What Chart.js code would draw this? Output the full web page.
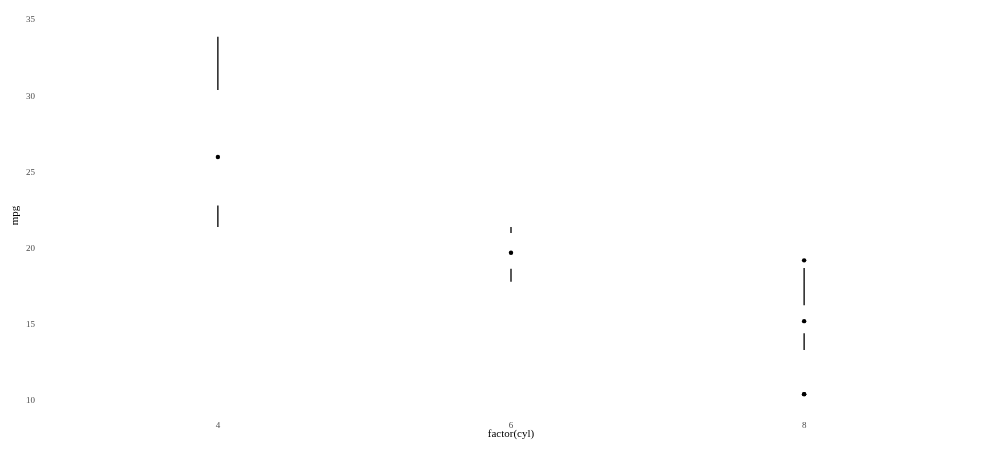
<!DOCTYPE html>
<html><head><meta charset="utf-8">
<script src="https://cdn.jsdelivr.net/npm/chart.js@4/dist/chart.umd.min.js"></script>
<style>html,body{margin:0;padding:0;background:#fff}#wrap{width:1000px;height:452px}</style>
</head><body><div id="wrap"><canvas id="c" width="1000" height="452"></canvas></div>
<script>
const categories = ['4', '6', '8'];
const lowerWhiskerLo = [21.4, 17.8, 13.3];
const lowerWhiskerHi = [22.8, 18.65, 14.4];
const upperWhiskerLo = [30.4, 21.0, 16.25];
const upperWhiskerHi = [33.9, 21.4, 18.7];
const medians = [26.0, 19.7, 15.2];
const outlierCat = ['8', '8', '8'];
const outlierMpg = [10.4, 10.4, 19.2];
const yTicks = [10, 15, 20, 25, 30, 35];

const xi = c => categories.indexOf(c) + 1;
const segs = [];
categories.forEach((c, i) => {
  segs.push({x: xi(c), y: lowerWhiskerLo[i]}, {x: xi(c), y: lowerWhiskerHi[i]}, {x: xi(c), y: null});
  segs.push({x: xi(c), y: upperWhiskerLo[i]}, {x: xi(c), y: upperWhiskerHi[i]}, {x: xi(c), y: null});
});
const medPts = categories.map((c, i) => ({x: xi(c), y: medians[i]}));
const outPts = outlierCat.map((c, i) => ({x: xi(c), y: outlierMpg[i]}));

const tickFont = {family: 'Liberation Serif', size: 9};
new Chart(document.getElementById('c'), {
  type: 'scatter',
  data: {datasets: [
    {type: 'line', data: segs, borderColor: '#000', borderWidth: 1.3, pointRadius: 0, spanGaps: false, fill: false},
    {data: medPts, backgroundColor: '#000', borderColor: '#000', pointRadius: 2.2, borderWidth: 0},
    {data: outPts, backgroundColor: '#000', borderColor: '#000', pointRadius: 2.2, borderWidth: 0}
  ]},
  options: {
    responsive: false, animation: false,
    layout: {padding: {left: 9, right: 20, top: 19, bottom: 11}},
    plugins: {legend: {display: false}, tooltip: {enabled: false}},
    scales: {
      x: {type: 'linear', min: 0.4, max: 3.6,
        afterBuildTicks: a => { a.ticks = categories.map((c, i) => ({value: i + 1})); },
        afterFit: a => { a.height = 29; },
        grid: {display: false, drawTicks: false}, border: {display: false},
        ticks: {callback: v => categories[v - 1], font: tickFont, color: '#4d4d4d', padding: 8, maxRotation: 0},
        title: {display: true, text: 'factor(cyl)', font: {family: 'Liberation Serif', size: 11}, color: '#000', padding: {top: 0, bottom: 0}}
      },
      y: {type: 'linear', min: 9.225, max: 35.075,
        afterBuildTicks: a => { a.ticks = yTicks.map(v => ({value: v})); },
        afterFit: a => { a.width = 33; },
        grid: {display: false, drawTicks: false}, border: {display: false},
        ticks: {font: tickFont, color: '#4d4d4d', padding: 7},
        title: {display: true, text: 'mpg', font: {family: 'Liberation Serif', size: 11}, color: '#000', padding: {top: 0, bottom: 0}}
      }
    }
  }
});
</script></body></html>
